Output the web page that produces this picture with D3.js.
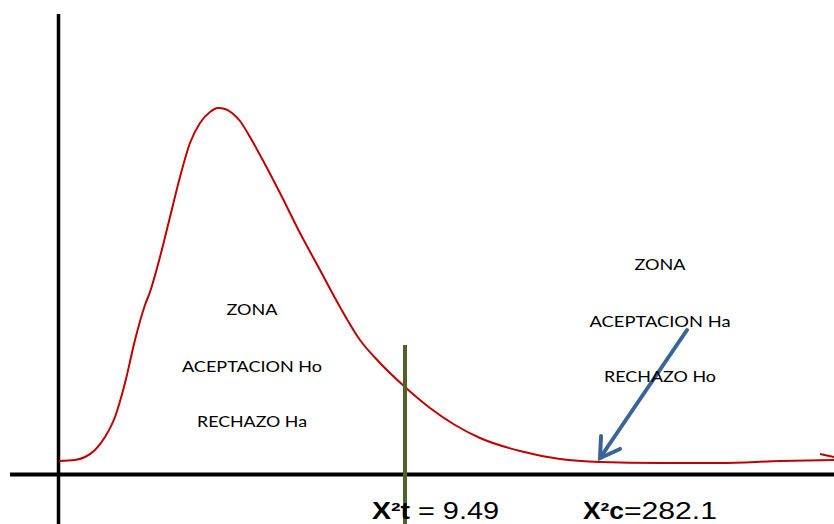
<!DOCTYPE html>
<html>
<head>
<meta charset="utf-8">
<script src="https://cdn.jsdelivr.net/npm/d3@7"></script>
<style>
html,body{margin:0;padding:0;background:#fff;}
svg{display:block;}
</style>
</head>
<body>
<svg id="chart" width="834" height="524"></svg>
<script>
// Curve (x along axis, y height above axis)
const curveX = [0,16,26,36,46,56,66,76,86,91,101,111,121,131,141,151,159,166,173,181,191,201,221,241,261,281,301,321,346,371,396,421,461,501,541,601,661,721,775];
const curveY = [13,14,17,24,37,57,91,134,169,182,217,257,297,331,351,362,366,365,361,353,337,319,281,241,204,167,134,111,87,66,49,36,23,15,12,11,11,13,14];
const tailX = [761,775];
const tailY = [20,17];
const criticalX = 346;            // X²t position
const arrowFrom = [628,144];      // arrow start (x, height)
const arrowTo = [541,16];         // arrow tip
const leftLabels = ["ZONA","ACEPTACION Ho","RECHAZO Ha"];
const rightLabels = ["ZONA","ACEPTACION Ha","RECHAZO Ho"];
const leftLabelY = [159,102,47];
const rightLabelY = [204,147,92];
const leftLabelX = 193;
const rightLabelX = 601;
const leftLabelW = [51,140,110];
const rightLabelW = [51,141,112];
const bottomLabels = [
  {bold:"X²t", rest:" = 9.49", x:313, wb:38, wr:89},
  {bold:"X²c", rest:"=282.1", x:524, wb:41, wr:93}
];

const svg = d3.select("#chart");
const x = d3.scaleLinear().domain([0,775]).range([59,834]);
const y = d3.scaleLinear().domain([0,367]).range([474,107]);

// axes
svg.append("line").attr("x1",x(0)-0.5).attr("x2",x(0)-0.5).attr("y1",14).attr("y2",524)
  .attr("stroke","#000").attr("stroke-width",3.5);
svg.append("line").attr("x1",10).attr("x2",834).attr("y1",y(0)+0.5).attr("y2",y(0)+0.5)
  .attr("stroke","#000").attr("stroke-width",4);

// curve
const pts = curveX.map((d,i)=>[d,curveY[i]]);
const line = d3.line().x(d=>x(d[0])).y(d=>y(d[1])).curve(d3.curveMonotoneX);
svg.append("path").attr("d",line(pts)).attr("fill","none").attr("stroke","#c00000").attr("stroke-width",2);
svg.append("path").attr("d",d3.line().x(d=>x(d[0])).y(d=>y(d[1]))(tailX.map((d,i)=>[d,tailY[i]])))
  .attr("fill","none").attr("stroke","#c00000").attr("stroke-width",2);

// critical line
svg.append("line").attr("x1",x(criticalX)).attr("x2",x(criticalX)).attr("y1",345).attr("y2",524)
  .attr("stroke","#4f6228").attr("stroke-width",4);

// arrow
const ax1 = x(arrowFrom[0]), ay1 = y(arrowFrom[1]), ax2 = x(arrowTo[0]), ay2 = y(arrowTo[1]);
svg.append("line").attr("x1",ax1).attr("y1",ay1).attr("x2",ax2).attr("y2",ay2)
  .attr("stroke","#3a6597").attr("stroke-width",4).attr("stroke-linecap","round");
const ang = Math.atan2(ay2-ay1, ax2-ax1);
const L = 22, spread = 0.55;
const head = [
  [ax2 - L*Math.cos(ang-spread), ay2 - L*Math.sin(ang-spread)],
  [ax2, ay2],
  [ax2 - L*Math.cos(ang+spread), ay2 - L*Math.sin(ang+spread)]
];
svg.append("path").attr("d",d3.line()(head)).attr("fill","none").attr("stroke","#3a6597")
  .attr("stroke-width",4).attr("stroke-linecap","round").attr("stroke-linejoin","miter");

// zone labels
function labels(arr, ys, xs, ws){
  svg.append("g").selectAll("text").data(arr).join("text")
    .attr("x",(d,i)=>x(xs)) .attr("y",(d,i)=>y(ys[i]))
    .attr("text-anchor","middle")
    .attr("font-family","Lato, 'Open Sans', sans-serif").attr("font-size",16)
    .attr("fill","#000")
    .attr("textLength",(d,i)=>ws[i]).attr("lengthAdjust","spacingAndGlyphs")
    .text(d=>d);
}
labels(leftLabels, leftLabelY, leftLabelX, leftLabelW);
labels(rightLabels, rightLabelY, rightLabelX, rightLabelW);

// bottom labels
bottomLabels.forEach(b=>{
  const g = svg.append("g").attr("font-family","'Liberation Sans', Arial, sans-serif")
    .attr("font-size",23).attr("fill","#000");
  g.append("text").attr("x",x(b.x)).attr("y",519).attr("font-weight","bold")
    .attr("textLength",b.wb).attr("lengthAdjust","spacingAndGlyphs").text(b.bold);
  g.append("text").attr("x",x(b.x)+b.wb).attr("y",519).attr("xml:space","preserve")
    .style("white-space","pre")
    .attr("textLength",b.wr).attr("lengthAdjust","spacingAndGlyphs").text(b.rest);
});
</script>
</body>
</html>
